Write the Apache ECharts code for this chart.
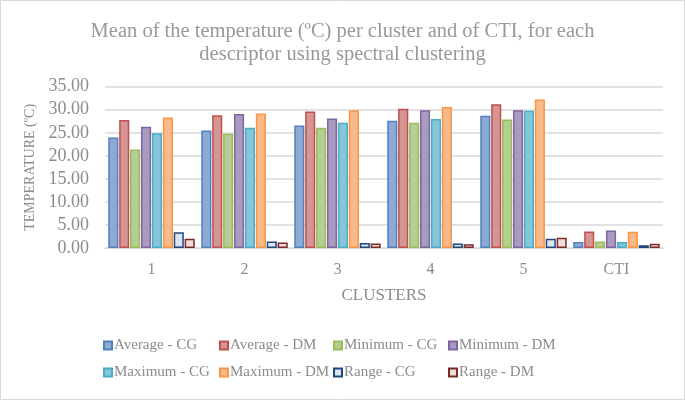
<!DOCTYPE html>
<html><head><meta charset="utf-8">
<script src="https://cdn.jsdelivr.net/npm/echarts@6/dist/echarts.min.js"></script>
<style>html,body{margin:0;padding:0;background:#fff}#c{width:685px;height:400px}</style>
</head><body><div id="c"></div>
<script>
const categories = ['1','2','3','4','5','CTI'];
const seriesNames = ['Average - CG','Average - DM','Minimum - CG','Minimum - DM','Maximum - CG','Maximum - DM','Range - CG','Range - DM'];
const averageCG = [24.0, 25.5, 26.6, 27.6, 28.7, 1.3];
const averageDM = [27.8, 28.8, 29.6, 30.2, 31.2, 3.6];
const minimumCG = [21.4, 24.8, 26.1, 27.2, 27.9, 1.4];
const minimumDM = [26.3, 29.1, 28.1, 29.9, 29.9, 3.8];
const maximumCG = [24.9, 26.1, 27.2, 28.0, 29.8, 1.3];
const maximumDM = [28.3, 29.2, 29.9, 30.6, 32.2, 3.5];
const rangeCG = [3.4, 1.4, 1.1, 1.0, 2.0, 0.6];
const rangeDM = [2.0, 1.2, 1.0, 0.8, 2.2, 0.9];
const yTicks = {min: 0, max: 35, interval: 5};

const values = [averageCG, averageDM, minimumCG, minimumDM, maximumCG, maximumDM, rangeCG, rangeDM];
const fills = ['#8eaad2','#d59593','#b4cf95','#a99bbf','#86c6da','#f8b98b','#dce6f2','#f2dcdb'];
const borders = ['#4f81bd','#c0504d','#9bbb59','#8064a2','#4bacc6','#f79646','#1f497d','#772c2a'];
const FONT = '"Liberation Serif", "Times New Roman", serif';

const chart = echarts.init(document.getElementById('c'), null, {renderer:'canvas'});
const series = seriesNames.map((n,i)=>({
  name:n, type:'bar', data: values[i],
  barGap:'8%', barCategoryGap:'7%',
  itemStyle:{color:fills[i], borderColor:borders[i], borderWidth:1.5},
  emphasis:{disabled:true}
}));
const cols = [103, 219, 333, 448];
const legends = cols.map((x,ci)=>({
  orient:'vertical', left:x, top:338,
  data:[seriesNames[ci], seriesNames[ci+4]],
  itemWidth:8, itemHeight:8, itemGap:12, icon:'rect',
  textStyle:{fontFamily:FONT, fontSize:15, color:'#8c8c8c', padding:[0,0,0,-3]},
  selectedMode:false, padding:0
}));
chart.setOption({
  animation:false,
  backgroundColor:'#fff',
  title:{
    text:'Mean of the temperature (ºC) per cluster and of CTI, for each\ndescriptor using spectral clustering',
    left:'center', top:15,
    textStyle:{fontFamily:FONT, fontSize:20.5, fontWeight:'normal', color:'#999999', lineHeight:23}
  },
  legend: legends,
  grid:{left:105, right:22, top:86.7, bottom:152, containLabel:false},
  xAxis:{
    type:'category', data:categories,
    name:'CLUSTERS', nameLocation:'middle', nameGap:39,
    nameTextStyle:{fontFamily:FONT, fontSize:17, color:'#8c8c8c'},
    axisLine:{lineStyle:{color:'#d9d9d9'}},
    axisTick:{show:false},
    axisLabel:{fontFamily:FONT, fontSize:16, color:'#8c8c8c', margin:14}
  },
  yAxis:{
    type:'value', min:yTicks.min, max:yTicks.max, interval:yTicks.interval,
    name:'TEMPERATURE (ºC)', nameLocation:'middle', nameGap:62, nameRotate:90,
    nameTextStyle:{fontFamily:FONT, fontSize:14, color:'#8c8c8c'},
    axisLine:{show:false}, axisTick:{show:false},
    splitLine:{lineStyle:{color:'#d9d9d9', width:1.5}},
    axisLabel:{fontFamily:FONT, fontSize:18, color:'#8c8c8c', margin:16, formatter:v=>v.toFixed(2)}
  },
  graphic:[{type:'rect', shape:{x:0.5,y:0.5,width:684,height:399}, style:{fill:'none', stroke:'#d9d9d9', lineWidth:1}, silent:true}],
  series: series
});
</script></body></html>
